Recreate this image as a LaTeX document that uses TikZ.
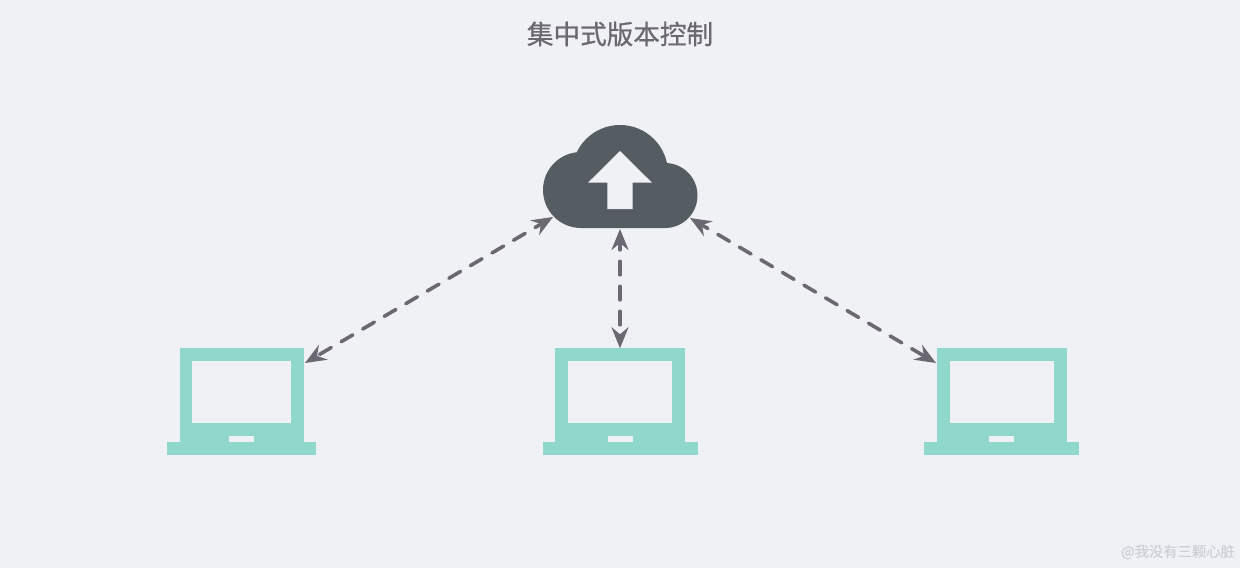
\documentclass[tikz,border=0pt]{standalone}
\usepackage{xcolor}
\usepackage{fontspec}
\usetikzlibrary{arrows.meta}
\newfontfamily\cjkmark[FakeBold=0.3]{Noto Sans CJK SC}
\newfontfamily\cjkbold[FakeBold=0.6]{Noto Sans CJK SC}
\definecolor{pagebg}{HTML}{F0F1F5}
\definecolor{cloudgray}{HTML}{555D62}
\definecolor{laptopgreen}{HTML}{90D8CB}
\definecolor{linkgray}{HTML}{6A6870}
\definecolor{markgray}{HTML}{CDCFD6}
\tikzset{
  laptoppart/.style={inner sep=0pt, outer sep=0pt, fill=laptopgreen},
  laptopgap/.style={inner sep=0pt, outer sep=0pt, fill=pagebg},
  link/.style={draw=linkgray, line width=3.6pt, line cap=round,
    dash pattern=on 13.5pt off 11.5pt, dash phase=5.3pt,
    {Stealth[length=21pt, width=17pt, inset=7pt]}-{Stealth[length=21pt, width=17pt, inset=7pt]}}
}

\begin{document}
\begin{tikzpicture}[x=1pt, y=-1pt]
  \fill[pagebg] (0,0) rectangle (1240,568);
  \useasboundingbox (0,0) rectangle (1240,568);
  \node[text=linkgray, font=\cjkbold\fontsize{26.6}{30}\selectfont] (title) at (620,34) {集中式版本控制};
  \node[text=markgray, inner sep=0pt, font=\cjkmark\fontsize{14.3}{16}\selectfont, anchor=east] (mark) at (1235,552) {@我没有三颗心脏};

  % cloud
  \fill[cloudgray] (581,190) circle (38pt) (620,173) circle (48pt) (665,195.5) circle (32.5pt)
    (581,170) rectangle (665,228);
  \fill[pagebg] (620,151) -- (652,182.7) -- (632.7,182.7) -- (632.7,209) -- (607.3,209)
    -- (607.3,182.7) -- (588,182.7) -- cycle;
  \node[inner sep=0pt, outer sep=1pt, minimum width=155pt, minimum height=103pt] (cloud) at (620,176.5) {};

  % laptops
  \foreach \name/\cx/\bw/\sw/\gw in {left/241.8/124/99/149, mid/620/130/104/155, right/1001.5/130/104/155}{
    \node[laptoppart, minimum width=\bw pt, minimum height=94pt] (\name) at (\cx,395.3) {};
    \node[laptoppart, minimum width=\gw pt, minimum height=12.4pt] (\name base) at (\cx,448.5) {};
    \node[laptopgap, minimum width=\sw pt, minimum height=62.3pt] (\name screen) at (\cx,392.2) {};
    \node[laptopgap, minimum width=25pt, minimum height=6.3pt] (\name slot) at (\cx,439.2) {};
  }

  % link ends on the cloud and on the outer laptops
  \coordinate (cloudleft) at (553,217);
  \coordinate (cloudright) at (690,218);
  \coordinate (portleft) at (305,363);
  \coordinate (portright) at (936,363);

  \draw[link] (cloudleft) -- (portleft);
  \draw[link] (cloud.south) -- (mid.north);
  \draw[link] (cloudright) -- (portright);
\end{tikzpicture}
\end{document}
